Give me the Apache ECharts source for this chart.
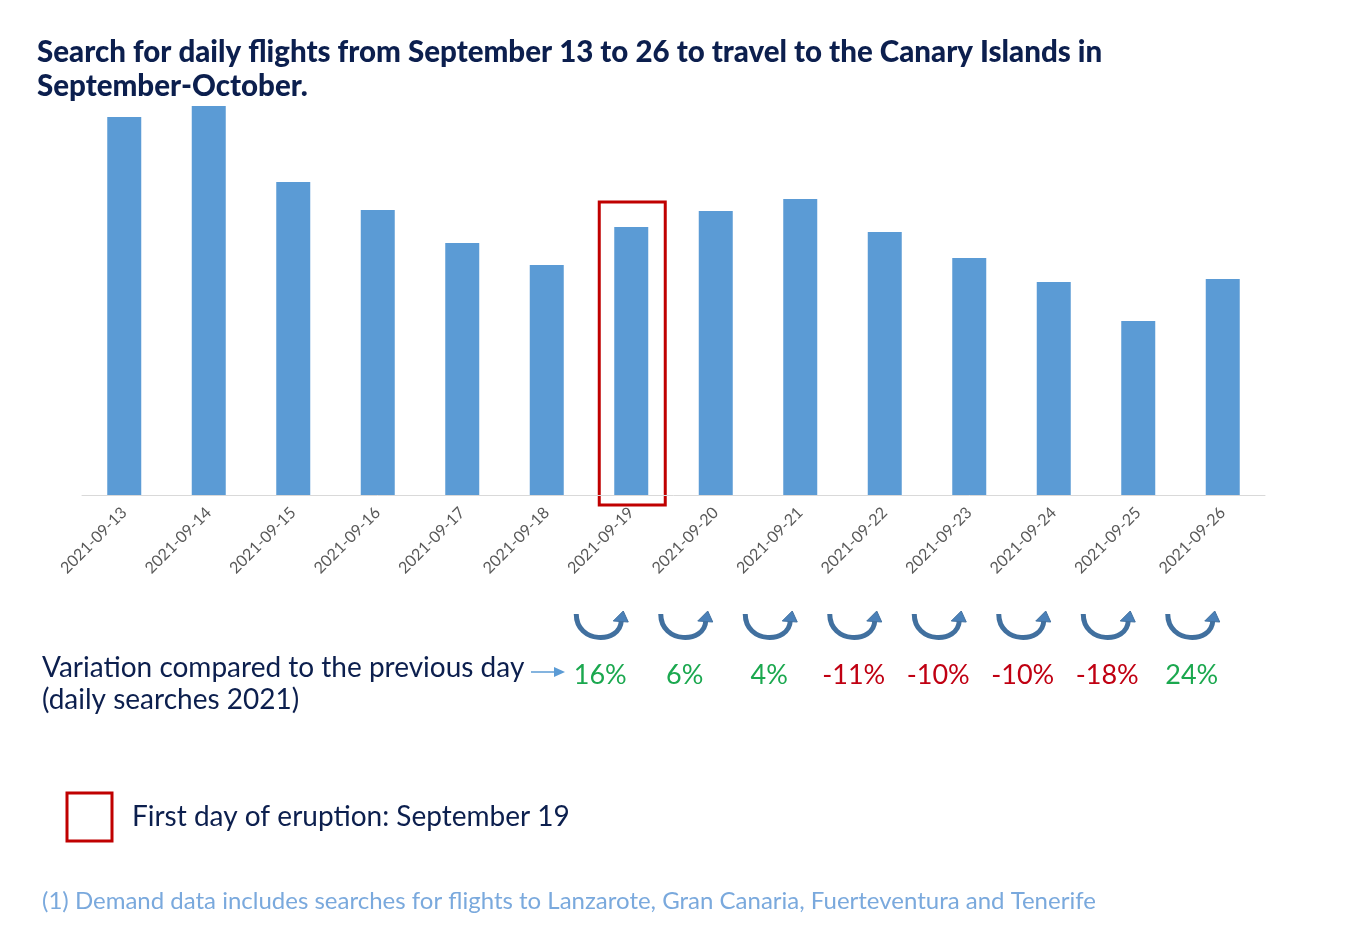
<!DOCTYPE html>
<html>
<head>
<meta charset="utf-8">
<script src="https://cdn.jsdelivr.net/npm/echarts@6/dist/echarts.min.js"></script>
<style>
  html, body { margin: 0; padding: 0; background: #fff; }
  #chartmain { width: 1348px; height: 930px; }
</style>
</head>
<body>
<div id="chartmain"></div>
<script>
// categories and daily search values (relative units)
var days = ['2021-09-13', '2021-09-14', '2021-09-15', '2021-09-16', '2021-09-17', '2021-09-18', '2021-09-19',
    '2021-09-20', '2021-09-21', '2021-09-22', '2021-09-23', '2021-09-24', '2021-09-25', '2021-09-26'];
var searches = [378, 389, 313, 285, 252, 230, 268, 284, 296, 263, 237, 213, 174, 216];
// variation vs previous day, from 19th onwards
var variationDays = ['2021-09-19', '2021-09-20', '2021-09-21', '2021-09-22', '2021-09-23', '2021-09-24', '2021-09-25', '2021-09-26'];
var variation = [16, 6, 4, -11, -10, -10, -18, 24];
var eruptionDay = '2021-09-19';

var navy = '#0c1f4e';
var fontFam = 'Lato, "Noto Sans", sans-serif';

function setChartMain() {
    var option = {
        title: {
            text: 'Search for daily flights from September 13 to 26 to travel to the Canary Islands in\nSeptember-October.',
            left: 32,
            top: 30,
            textStyle: {
                color: navy,
                fontFamily: fontFam,
                fontWeight: 900,
                fontSize: 29.5,
                lineHeight: 34
            }
        },
        grid: {
            left: 82,
            right: 83,
            top: 95,
            bottom: 435,
            containLabel: false
        },
        xAxis: {
            type: 'category',
            data: days,
            axisLine: { lineStyle: { color: '#d9d9d9', width: 1 } },
            axisTick: { show: false },
            axisLabel: {
                rotate: 45,
                color: '#595959',
                fontFamily: fontFam,
                fontSize: 16,
                margin: 15
            }
        },
        yAxis: {
            type: 'value',
            min: 0,
            max: 400,
            show: false,
            splitLine: { show: false }
        },
        series: [{
            type: 'bar',
            data: searches,
            barWidth: 34,
            itemStyle: { color: '#5b9bd5' },
            animation: false
        }],
        animation: false
    };
    var myChart = echarts.init(document.getElementById('chartmain'));
    myChart.setOption(option);

    // annotations placed with the chart's own scales
    var graphics = [];
    var idx19 = days.indexOf(eruptionDay);
    var p19 = myChart.convertToPixel({ seriesIndex: 0 }, [idx19, searches[idx19]]);
    var base = myChart.convertToPixel({ seriesIndex: 0 }, [idx19, 0]);
    graphics.push({
        type: 'rect',
        shape: { x: p19[0] - 32, y: p19[1] - 25, width: 66, height: base[1] - p19[1] + 35 },
        style: { fill: 'none', stroke: '#c00000', lineWidth: 3 }
    });

    variationDays.forEach(function (d, i) {
        var p = myChart.convertToPixel({ seriesIndex: 0 }, [days.indexOf(d), 0]);
        var cx = p[0] - 31;
        graphics.push({
            type: 'group',
            x: cx,
            y: 624,
            children: [{
                type: 'bezierCurve',
                shape: { x1: -24, y1: -10, cpx1: -24, cpy1: 20, cpx2: 20, cpy2: 20, x2: 21, y2: -3 },
                style: { fill: 'none', stroke: '#41709f', lineWidth: 5 }
            }, {
                type: 'polygon',
                shape: { points: [[13, -3], [28, -2], [23, -13]] },
                style: { fill: '#4a80b8', stroke: '#41709f', lineWidth: 1 }
            }]
        });
        var v = variation[i];
        graphics.push({
            type: 'text',
            x: cx,
            y: 675,
            style: {
                text: v + '%',
                fill: v >= 0 ? '#1ba84f' : '#c00012',
                font: '27px ' + fontFam,
                align: 'center',
                verticalAlign: 'middle'
            }
        });
    });

    graphics.push({
        type: 'text',
        x: 42,
        y: 652,
        style: {
            text: 'Variation compared to the previous day\n(daily searches 2021)',
            fill: navy,
            font: '28px ' + fontFam,
            lineHeight: 32
        }
    });
    graphics.push({
        type: 'line',
        shape: { x1: 531, y1: 672, x2: 556, y2: 672 },
        style: { stroke: '#5b9bd5', lineWidth: 1.5 }
    });
    graphics.push({
        type: 'polygon',
        shape: { points: [[554, 667], [565, 672], [554, 677]] },
        style: { fill: '#5b9bd5' }
    });

    graphics.push({
        type: 'rect',
        shape: { x: 67, y: 793, width: 45, height: 48 },
        style: { fill: 'none', stroke: '#c00000', lineWidth: 3 }
    });
    graphics.push({
        type: 'text',
        x: 132,
        y: 817,
        style: {
            text: 'First day of eruption: September 19',
            fill: navy,
            font: '28px ' + fontFam,
            verticalAlign: 'middle'
        }
    });
    graphics.push({
        type: 'text',
        x: 42,
        y: 901,
        style: {
            text: '(1) Demand data includes searches for flights to Lanzarote, Gran Canaria, Fuerteventura and Tenerife',
            fill: '#7aa9dd',
            font: '24px ' + fontFam,
            verticalAlign: 'middle'
        }
    });

    myChart.setOption({ graphic: graphics });
}
setChartMain();
</script>
</body>
</html>
